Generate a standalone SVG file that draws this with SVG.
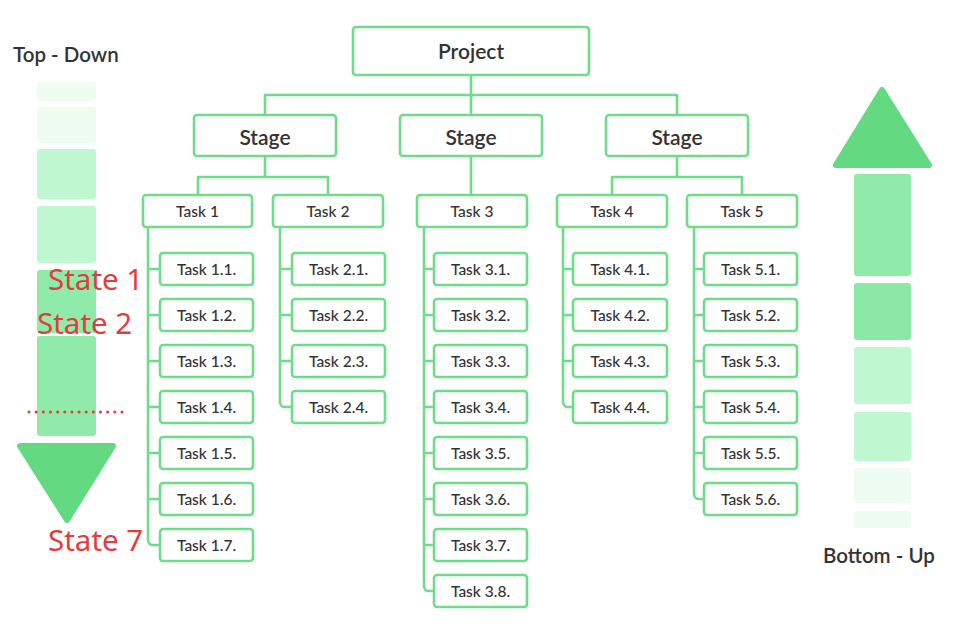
<svg xmlns="http://www.w3.org/2000/svg" width="955" height="626" viewBox="0 0 955 626">
<style>
.box{fill:#fff;stroke:#6edc8b;stroke-width:2.6}
.ln{fill:none;stroke:#6edc8b;stroke-width:2.6;stroke-linejoin:round}
.t{font-family:Lato,"Noto Sans",sans-serif;fill:#333;text-anchor:middle;dominant-baseline:central}
.big{font-size:21px;font-weight:600}
.mid{font-size:15.5px;font-weight:500}
.st{font-family:"Noto Sans","Open Sans",sans-serif;font-size:29.5px;fill:#e43c3c}
.lbl{font-family:Lato,"Noto Sans",sans-serif;font-size:20.5px;font-weight:600;fill:#333}
.p0{fill:#eefcf2}.p1{fill:#bff7d1}.p2{fill:#90eaa9}.p3{fill:#8ce8a5}.tri{fill:#63d982;stroke:#63d982;stroke-width:6;stroke-linejoin:round}
</style>
<rect width="955" height="626" fill="#fff"/>
<g id="top-down">
<rect class="p0" x="37" y="82" width="59" height="19" rx="3"/>
<rect class="p0" x="37" y="107" width="59" height="36" rx="3"/>
<rect class="p1" x="37" y="149" width="59" height="50" rx="3"/>
<rect class="p1" x="37" y="206" width="59" height="57" rx="3"/>
<rect class="p2" x="37" y="270" width="59" height="63" rx="3"/>
<rect class="p2" x="37" y="336" width="59" height="100" rx="3"/>
<polygon class="tri" points="20,446 113,446 67,520"/>
<text class="lbl" x="13" y="62">Top - Down</text>
</g>
<g id="bottom-up">
<polygon class="tri" points="836,165 929,165 882,90"/>
<rect class="p2" x="854" y="174" width="57" height="102" rx="3"/>
<rect class="p3" x="854" y="283" width="57" height="57" rx="3"/>
<rect class="p1" x="854" y="347" width="57" height="57" rx="3"/>
<rect class="p1" x="854" y="412" width="57" height="49" rx="3"/>
<rect class="p0" x="854" y="468" width="57" height="35" rx="3"/>
<rect class="p0" x="854" y="511" width="57" height="17" rx="3"/>
<text class="lbl" x="823" y="563">Bottom - Up</text>
</g>
<g id="connectors">
<path class="ln" d="M471,75V115M265,115V95H677V115"/>
<path class="ln" d="M265,156V177M198,195V177H328V195"/>
<path class="ln" d="M471,156V195"/>
<path class="ln" d="M677,156V177M612,195V177H742V195"/>
<path class="ln" d="M148,227V540a5,5 0 0 0 5,5H160M148,269H160M148,315H160M148,361H160M148,407H160M148,453H160M148,499H160"/>
<path class="ln" d="M280,227V402a5,5 0 0 0 5,5H292M280,269H292M280,315H292M280,361H292"/>
<path class="ln" d="M424,227V586a5,5 0 0 0 5,5H434M424,269H434M424,315H434M424,361H434M424,407H434M424,453H434M424,499H434M424,545H434"/>
<path class="ln" d="M563,227V402a5,5 0 0 0 5,5H573M563,269H573M563,315H573M563,361H573"/>
<path class="ln" d="M694,227V494a5,5 0 0 0 5,5H704M694,269H704M694,315H704M694,361H704M694,407H704M694,453H704"/>
</g>
<g id="project"><rect class="box" x="353" y="27" width="236" height="48" rx="3"/><text class="t big" x="471" y="50">Project</text></g>
<g id="stage1"><rect class="box" x="194" y="115" width="142" height="41" rx="3"/><text class="t big" x="265" y="136">Stage</text></g>
<g id="stage2"><rect class="box" x="400" y="115" width="142" height="41" rx="3"/><text class="t big" x="471" y="136">Stage</text></g>
<g id="stage3"><rect class="box" x="606" y="115" width="142" height="41" rx="3"/><text class="t big" x="677" y="136">Stage</text></g>
<g id="task1"><rect class="box" x="143" y="195" width="109" height="32" rx="3"/><text class="t mid" x="197.5" y="211">Task 1</text></g>
<g id="task2"><rect class="box" x="273" y="195" width="110" height="32" rx="3"/><text class="t mid" x="328" y="211">Task 2</text></g>
<g id="task3"><rect class="box" x="417" y="195" width="110" height="32" rx="3"/><text class="t mid" x="472" y="211">Task 3</text></g>
<g id="task4"><rect class="box" x="557" y="195" width="110" height="32" rx="3"/><text class="t mid" x="612" y="211">Task 4</text></g>
<g id="task5"><rect class="box" x="687" y="195" width="110" height="32" rx="3"/><text class="t mid" x="742" y="211">Task 5</text></g>
<g id="task1-1"><rect class="box" x="160" y="253" width="93" height="32" rx="3"/><text class="t mid" x="206.5" y="269">Task 1.1.</text></g>
<g id="task1-2"><rect class="box" x="160" y="299" width="93" height="32" rx="3"/><text class="t mid" x="206.5" y="315">Task 1.2.</text></g>
<g id="task1-3"><rect class="box" x="160" y="345" width="93" height="32" rx="3"/><text class="t mid" x="206.5" y="361">Task 1.3.</text></g>
<g id="task1-4"><rect class="box" x="160" y="391" width="93" height="32" rx="3"/><text class="t mid" x="206.5" y="407">Task 1.4.</text></g>
<g id="task1-5"><rect class="box" x="160" y="437" width="93" height="32" rx="3"/><text class="t mid" x="206.5" y="453">Task 1.5.</text></g>
<g id="task1-6"><rect class="box" x="160" y="483" width="93" height="32" rx="3"/><text class="t mid" x="206.5" y="499">Task 1.6.</text></g>
<g id="task1-7"><rect class="box" x="160" y="529" width="93" height="32" rx="3"/><text class="t mid" x="206.5" y="545">Task 1.7.</text></g>
<g id="task2-1"><rect class="box" x="292" y="253" width="93" height="32" rx="3"/><text class="t mid" x="338.5" y="269">Task 2.1.</text></g>
<g id="task2-2"><rect class="box" x="292" y="299" width="93" height="32" rx="3"/><text class="t mid" x="338.5" y="315">Task 2.2.</text></g>
<g id="task2-3"><rect class="box" x="292" y="345" width="93" height="32" rx="3"/><text class="t mid" x="338.5" y="361">Task 2.3.</text></g>
<g id="task2-4"><rect class="box" x="292" y="391" width="93" height="32" rx="3"/><text class="t mid" x="338.5" y="407">Task 2.4.</text></g>
<g id="task3-1"><rect class="box" x="434" y="253" width="93" height="32" rx="3"/><text class="t mid" x="480.5" y="269">Task 3.1.</text></g>
<g id="task3-2"><rect class="box" x="434" y="299" width="93" height="32" rx="3"/><text class="t mid" x="480.5" y="315">Task 3.2.</text></g>
<g id="task3-3"><rect class="box" x="434" y="345" width="93" height="32" rx="3"/><text class="t mid" x="480.5" y="361">Task 3.3.</text></g>
<g id="task3-4"><rect class="box" x="434" y="391" width="93" height="32" rx="3"/><text class="t mid" x="480.5" y="407">Task 3.4.</text></g>
<g id="task3-5"><rect class="box" x="434" y="437" width="93" height="32" rx="3"/><text class="t mid" x="480.5" y="453">Task 3.5.</text></g>
<g id="task3-6"><rect class="box" x="434" y="483" width="93" height="32" rx="3"/><text class="t mid" x="480.5" y="499">Task 3.6.</text></g>
<g id="task3-7"><rect class="box" x="434" y="529" width="93" height="32" rx="3"/><text class="t mid" x="480.5" y="545">Task 3.7.</text></g>
<g id="task3-8"><rect class="box" x="434" y="575" width="93" height="32" rx="3"/><text class="t mid" x="480.5" y="591">Task 3.8.</text></g>
<g id="task4-1"><rect class="box" x="573" y="253" width="94" height="32" rx="3"/><text class="t mid" x="620" y="269">Task 4.1.</text></g>
<g id="task4-2"><rect class="box" x="573" y="299" width="94" height="32" rx="3"/><text class="t mid" x="620" y="315">Task 4.2.</text></g>
<g id="task4-3"><rect class="box" x="573" y="345" width="94" height="32" rx="3"/><text class="t mid" x="620" y="361">Task 4.3.</text></g>
<g id="task4-4"><rect class="box" x="573" y="391" width="94" height="32" rx="3"/><text class="t mid" x="620" y="407">Task 4.4.</text></g>
<g id="task5-1"><rect class="box" x="704" y="253" width="93" height="32" rx="3"/><text class="t mid" x="750.5" y="269">Task 5.1.</text></g>
<g id="task5-2"><rect class="box" x="704" y="299" width="93" height="32" rx="3"/><text class="t mid" x="750.5" y="315">Task 5.2.</text></g>
<g id="task5-3"><rect class="box" x="704" y="345" width="93" height="32" rx="3"/><text class="t mid" x="750.5" y="361">Task 5.3.</text></g>
<g id="task5-4"><rect class="box" x="704" y="391" width="93" height="32" rx="3"/><text class="t mid" x="750.5" y="407">Task 5.4.</text></g>
<g id="task5-5"><rect class="box" x="704" y="437" width="93" height="32" rx="3"/><text class="t mid" x="750.5" y="453">Task 5.5.</text></g>
<g id="task5-6"><rect class="box" x="704" y="483" width="93" height="32" rx="3"/><text class="t mid" x="750.5" y="499">Task 5.6.</text></g>
<g id="states">
<text class="st" x="48" y="290">State 1</text>
<text class="st" x="37" y="334">State 2</text>
<line x1="29" y1="412" x2="122" y2="412" stroke="#e43c3c" stroke-width="3" stroke-linecap="round" stroke-dasharray="0 7.15"/>
<text class="st" x="48" y="551">State 7</text>
</g>
</svg>
